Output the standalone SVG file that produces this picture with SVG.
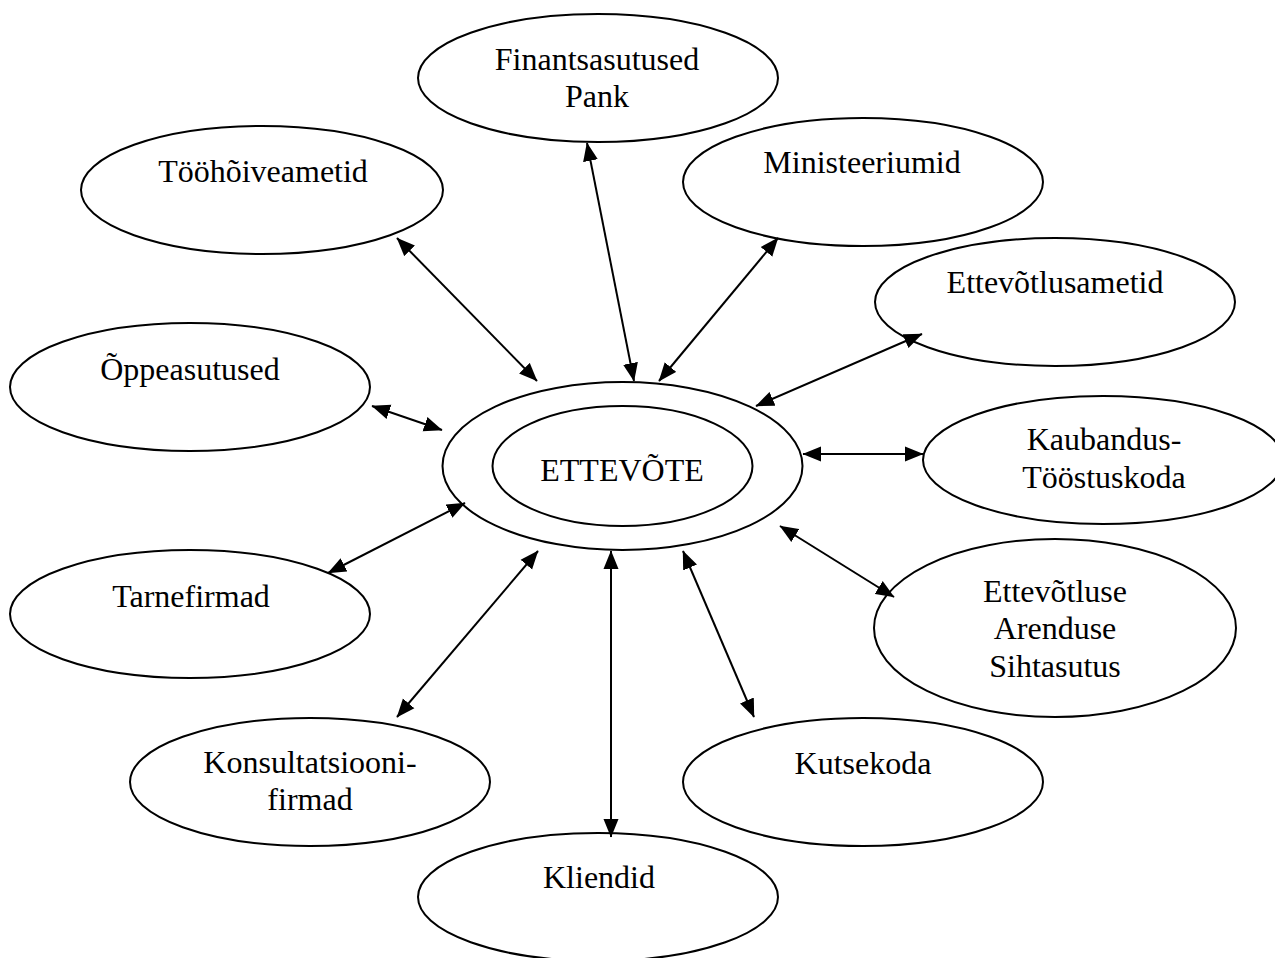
<svg xmlns="http://www.w3.org/2000/svg" width="1275" height="958" viewBox="0 0 1275 958">
<style>
  .node ellipse { fill: #ffffff; stroke: #000000; stroke-width: 2; }
  .node text { font-family: "Liberation Serif", "Times New Roman", serif; font-size: 32px; fill: #000000; text-anchor: middle; }
  #connectors line { stroke: #000000; stroke-width: 2; marker-start: url(#arrow); marker-end: url(#arrow); }
</style>
<defs>
  <marker id="arrow" markerUnits="userSpaceOnUse" markerWidth="19" markerHeight="16" refX="18" refY="8" orient="auto-start-reverse" viewBox="0 0 19 16">
    <path d="M0,0.5 L18.5,8 L0,15.5 z" fill="#000000"/>
  </marker>
</defs>
<rect x="0" y="0" width="1275" height="958" fill="#ffffff"/>

<g id="node-finantsasutused" class="node">
  <ellipse cx="598" cy="78" rx="180" ry="64"/>
  <text x="597" y="70">Finantsasutused</text>
  <text x="597" y="107">Pank</text>
</g>
<g id="node-toohoiveametid" class="node">
  <ellipse cx="262" cy="190" rx="181" ry="64"/>
  <text x="263" y="182">Tööhõiveametid</text>
</g>
<g id="node-ministeeriumid" class="node">
  <ellipse cx="863" cy="182" rx="180" ry="64"/>
  <text x="862" y="173">Ministeeriumid</text>
</g>
<g id="node-ettevotlusametid" class="node">
  <ellipse cx="1055" cy="302" rx="180" ry="64"/>
  <text x="1055" y="293">Ettevõtlusametid</text>
</g>
<g id="node-oppeasutused" class="node">
  <ellipse cx="190" cy="387" rx="180" ry="64"/>
  <text x="190" y="380">Õppeasutused</text>
</g>
<g id="node-ettevote" class="node">
  <ellipse cx="622.5" cy="466" rx="180" ry="84"/>
  <ellipse cx="622.5" cy="466" rx="130" ry="60"/>
  <text x="622" y="481">ETTEVÕTE</text>
</g>
<g id="node-kaubandus" class="node">
  <ellipse cx="1103" cy="460" rx="180" ry="64"/>
  <text x="1104" y="450">Kaubandus-</text>
  <text x="1104" y="488">Tööstuskoda</text>
</g>
<g id="node-arendus" class="node">
  <ellipse cx="1055" cy="628" rx="181" ry="89"/>
  <text x="1055" y="602">Ettevõtluse</text>
  <text x="1055" y="639">Arenduse</text>
  <text x="1055" y="677">Sihtasutus</text>
</g>
<g id="node-tarnefirmad" class="node">
  <ellipse cx="190" cy="614" rx="180" ry="64"/>
  <text x="191" y="607">Tarnefirmad</text>
</g>
<g id="node-konsultatsioon" class="node">
  <ellipse cx="310" cy="782" rx="180" ry="64"/>
  <text x="310" y="773">Konsultatsiooni-</text>
  <text x="310" y="810">firmad</text>
</g>
<g id="node-kutsekoda" class="node">
  <ellipse cx="863" cy="782" rx="180" ry="64"/>
  <text x="863" y="774">Kutsekoda</text>
</g>
<g id="node-kliendid" class="node">
  <ellipse cx="598" cy="897" rx="180" ry="64"/>
  <text x="599" y="888">Kliendid</text>
</g>

<g id="connectors">
  <line x1="397" y1="238" x2="537" y2="381"/>
  <line x1="587" y1="143" x2="634" y2="381"/>
  <line x1="778" y1="238" x2="659" y2="381"/>
  <line x1="922" y1="334" x2="756" y2="406"/>
  <line x1="372" y1="406" x2="442" y2="430"/>
  <line x1="803" y1="454" x2="923" y2="454"/>
  <line x1="780" y1="526" x2="894" y2="597"/>
  <line x1="328" y1="573" x2="465" y2="503"/>
  <line x1="397" y1="717" x2="538" y2="551"/>
  <line x1="611" y1="551" x2="611" y2="837"/>
  <line x1="683" y1="551" x2="754" y2="717"/>
</g>
</svg>
